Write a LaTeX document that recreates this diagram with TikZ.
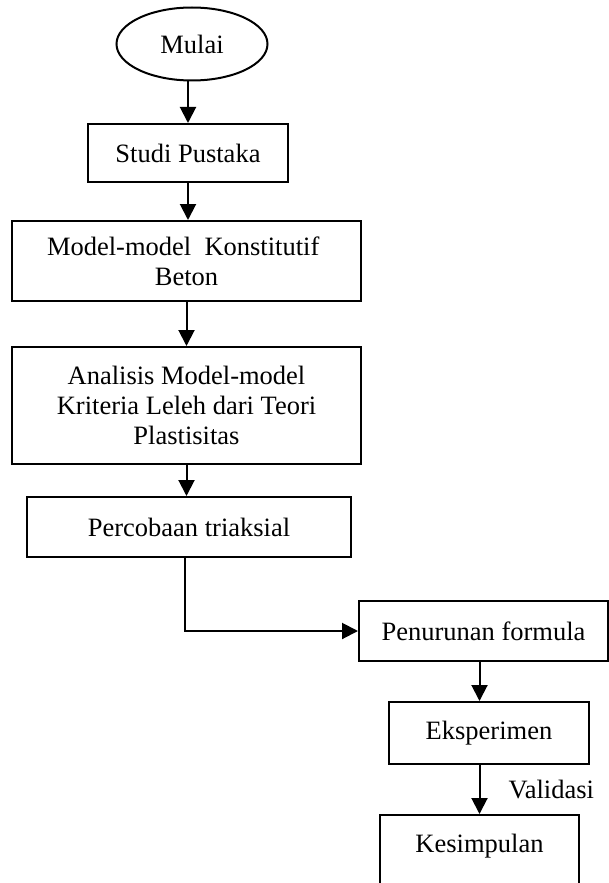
\documentclass[tikz,border=0pt]{standalone}
\usepackage{fontspec}
\setmainfont{Liberation Serif}
\usetikzlibrary{arrows.meta,positioning,shapes.geometric}

\begin{document}
\begin{tikzpicture}[x=0.5pt,y=-0.5pt,
    every node/.style={font=\fontsize{13.25}{15}\selectfont},
    box/.style={draw, line width=1pt, rectangle, align=center, inner sep=0pt},
    flow/.style={line width=1pt, -{Triangle[length=8pt,width=8pt]}}]
        \useasboundingbox (0,0) rectangle (609,883);
        \clip (0,0) rectangle (609,883);
        % left column
        \node[draw, line width=1pt, ellipse, minimum width=75.5pt, minimum height=36.5pt, inner sep=0pt] (mulai) at (192,44) {Mulai};
        \node[box, minimum width=100pt, minimum height=29pt] (studi) at (188,153) {Studi Pustaka};
        \node[box, minimum width=174.5pt, minimum height=40pt] (model) at (186.5,261) {Model-model\ \ Konstitutif\ \ \\Beton};
        \node[box, minimum width=174.5pt, minimum height=58.5pt] (analisis) at (186.5,405.5) {Analisis Model-model\\Kriteria Leleh dari Teori\\Plastisitas};
        \node[box, minimum width=162pt, minimum height=30pt] (percobaan) at (189,527) {Percobaan triaksial};
        % right column
        \node[box, minimum width=124.5pt, minimum height=30pt] (penurunan) at (483.5,631) {Penurunan formula};
        \node[box, minimum width=100pt, minimum height=31pt] (eksperimen) at (489,733) {Eksperimen};
        \node[box, anchor=north, minimum width=99.5pt, inner ysep=9.5pt, text depth=40pt] (kesimpulan) at (479.5,814) {Kesimpulan};
        \draw[flow] (studi.north |- mulai.south) -- (studi.north);
        \draw[flow] (studi.south) -- (studi.south |- model.north);
        \draw[flow] (model.south) -- (analisis.north);
        \draw[flow] (analisis.south) -- (analisis.south |- percobaan.north);
        \draw[flow] ([xshift=-2pt]percobaan.south) |- (penurunan.west);
        \draw[flow] (kesimpulan.north |- penurunan.south) -- (kesimpulan.north |- eksperimen.north);
        \draw[flow] (kesimpulan.north |- eksperimen.south) -- (kesimpulan.north) node[midway, right=10.7pt] (validasi) {Validasi};
      \end{tikzpicture}
\end{document}
